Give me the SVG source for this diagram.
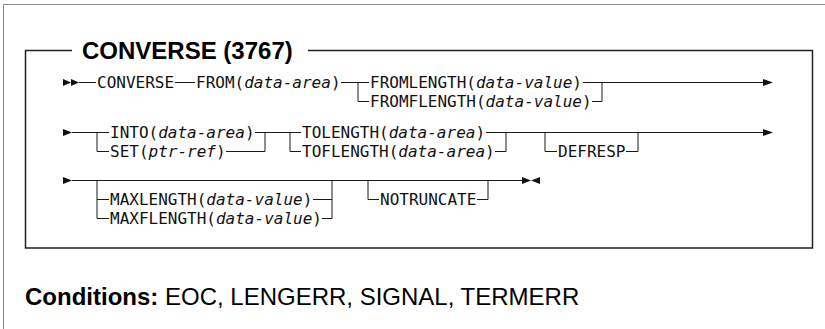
<svg xmlns="http://www.w3.org/2000/svg" width="825" height="329" viewBox="0 0 825 329">
<style>
.ln{stroke:#1a1a1a;stroke-width:1;fill:none}
.t{font-family:"DejaVu Sans Mono",monospace;font-size:16px;fill:#111}
.i{font-style:italic}
.ah{fill:#111}
.frame{stroke:#8a8a8a;stroke-width:1;fill:none}
.box{stroke:#222;stroke-width:1.5;fill:none}
.h{font-family:"Liberation Sans",Arial,sans-serif;font-size:24px;fill:#000}
</style>
<path class="frame" d="M3.5 329 V4.5 H825"/>
<g id="box">
<path class="box" d="M72 50.5 H25.5 V248 H812.5 V50.5 H308"/>
<text class="h" x="82" y="58.5" font-weight="bold">CONVERSE (3767)</text>
</g>
<g id="connectors">
<polygon class="ah" points="63,79 71,82.5 63,86"/>
<polygon class="ah" points="71,79 79,82.5 71,86"/>
<path class="ln" d="M79 82.5 H96 M175 82.5 H195 M341 82.5 H369 M358 82.5 V101.5 H369 M583 82.5 H764 M592 101.5 H602 V82.5"/>
<polygon class="ah" points="763,79 773,82.5 763,86"/>
<polygon class="ah" points="63,129 72,132.5 63,136"/>
<path class="ln" d="M72 132.5 H109 M97 132.5 V151.5 H109 M255 132.5 H301 M226 151.5 H265 V132.5 M290 132.5 V151.5 H301 M486 132.5 H764 M495 151.5 H506 V132.5 M545 132.5 V151.5 H557 M626 151.5 H638 V132.5"/>
<polygon class="ah" points="763,129 773,132.5 763,136"/>
<polygon class="ah" points="63,177 72,180.5 63,184"/>
<path class="ln" d="M72 180.5 H523 M97 180.5 V218.5 H109 M97 199.5 H109 M313 199.5 H332 M322 218.5 H332 V180.5 M368 180.5 V199.5 H379 M477 199.5 H488 V180.5"/>
<polygon class="ah" points="522,177 531,180.5 522,184"/>
<polygon class="ah" points="540,177 531,180.5 540,184"/>
</g>
<g id="n-converse"><text class="t" x="97" y="88">CONVERSE</text></g>
<g id="n-from"><text class="t" x="196" y="88">FROM(<tspan class="i">data-area</tspan>)</text></g>
<g id="n-fromlength"><text class="t" x="370" y="88">FROMLENGTH(<tspan class="i">data-value</tspan>)</text></g>
<g id="n-fromflength"><text class="t" x="370" y="107">FROMFLENGTH(<tspan class="i">data-value</tspan>)</text></g>
<g id="n-into"><text class="t" x="110" y="138">INTO(<tspan class="i">data-area</tspan>)</text></g>
<g id="n-set"><text class="t" x="110" y="157">SET(<tspan class="i">ptr-ref</tspan>)</text></g>
<g id="n-tolength"><text class="t" x="302" y="138">TOLENGTH(<tspan class="i">data-area</tspan>)</text></g>
<g id="n-toflength"><text class="t" x="302" y="157">TOFLENGTH(<tspan class="i">data-area</tspan>)</text></g>
<g id="n-defresp"><text class="t" x="558" y="157">DEFRESP</text></g>
<g id="n-maxlength"><text class="t" x="110" y="205">MAXLENGTH(<tspan class="i">data-value</tspan>)</text></g>
<g id="n-maxflength"><text class="t" x="110" y="224">MAXFLENGTH(<tspan class="i">data-value</tspan>)</text></g>
<g id="n-notruncate"><text class="t" x="380" y="205">NOTRUNCATE</text></g>
<g id="conditions"><text class="h" x="25" y="305"><tspan font-weight="bold">Conditions:</tspan> EOC, LENGERR, SIGNAL, TERMERR</text></g>
</svg>
